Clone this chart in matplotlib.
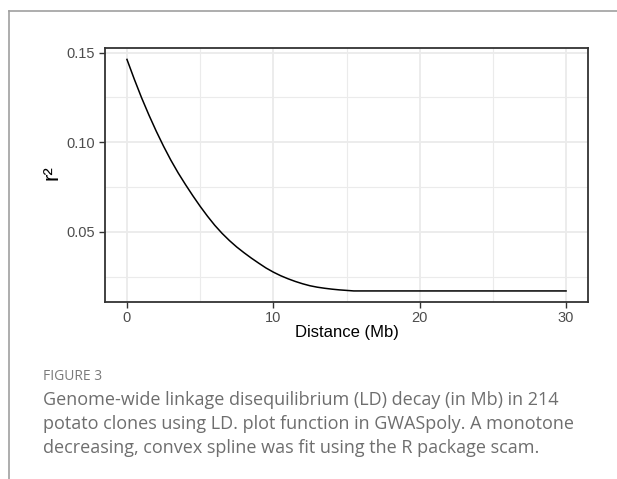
import matplotlib
matplotlib.use("Agg")
import matplotlib.pyplot as plt
from matplotlib.lines import Line2D

# LD decay curve
distance = [0, 0.5, 1, 1.5, 2, 2.5, 3, 3.5, 4, 4.5, 5, 5.5, 6, 6.5, 7, 7.5, 8, 8.5, 9, 9.5,
            10, 10.5, 11, 11.5, 12, 12.5, 13, 13.5, 14, 14.5, 15, 15.5, 20, 25, 30]
r2 = [0.1462, 0.1352, 0.1248, 0.1152, 0.1062, 0.0978, 0.0900, 0.0829, 0.0764, 0.0702,
      0.0643, 0.0588, 0.0537, 0.0492, 0.0452, 0.0416, 0.0384, 0.0354, 0.0326, 0.0299,
      0.0276, 0.0256, 0.0239, 0.0224, 0.0211, 0.0200, 0.0192, 0.0186, 0.0181, 0.0177,
      0.0174, 0.0171, 0.0171, 0.0171, 0.0171]

x_ticks = [0, 10, 20, 30]
y_ticks = [0.05, 0.10, 0.15]
y_minor = [0.025, 0.075, 0.125]
x_minor = [5, 15, 25]

caption_head = "FIGURE 3"
caption_lines = [
    "Genome-wide linkage disequilibrium (LD) decay (in Mb) in 214",
    "potato clones using LD. plot function in GWASpoly. A monotone",
    "decreasing, convex spline was fit using the R package scam.",
]

W, H = 617, 479
fig = plt.figure(figsize=(W / 100, H / 100), dpi=100)
fig.patch.set_facecolor("white")

# page frame lines
fig.add_artist(Line2D([9 / W, 1.0], [1 - 11 / H, 1 - 11 / H], color="#a0a0a0", lw=1.2))
fig.add_artist(Line2D([9 / W, 9 / W], [0, 1 - 11 / H], color="#a0a0a0", lw=1.2))

left, right, top, bottom = 105, 588, 48.3, 301.7
ax = fig.add_axes([left / W, 1 - bottom / H, (right - left) / W, (bottom - top) / H])

ax.plot(distance, r2, color="black", lw=1.1)

ax.set_xlim(-1.5, 31.5)
ax.set_ylim(0.0111, 0.1524)
ax.set_xticks(x_ticks)
ax.set_xticklabels([str(t) for t in x_ticks])
ax.set_yticks(y_ticks)
ax.set_yticklabels(["%.2f" % t for t in y_ticks])
ax.set_xticks(x_minor, minor=True)
ax.set_yticks(y_minor, minor=True)

ax.grid(True, which="major", color="#ebebeb", lw=1.3)
ax.grid(True, which="minor", color="#ebebeb", lw=0.8)
ax.set_axisbelow(True)
ax.tick_params(which="minor", length=0)
ax.tick_params(which="major", length=4, width=1.0, color="#333333",
               labelsize=10.5, labelcolor="#4d4d4d", pad=3)
for lab in ax.get_xticklabels() + ax.get_yticklabels():
    lab.set_fontfamily("Liberation Sans")
for s in ax.spines.values():
    s.set_color("#333333")
    s.set_linewidth(1.3)

ax.set_xlabel("Distance (Mb)", fontsize=12, family="Liberation Sans", labelpad=0)
fig.text(52 / W, 1 - 173 / H, "r²", fontsize=16, family="Liberation Sans",
         rotation=90, ha="center", va="center")

fig.text(43 / W, 1 - 377 / H, caption_head, fontsize=10, color="#7a7a7a",
         family="Open Sans", va="center", ha="left")
for i, line in enumerate(caption_lines):
    fig.text(43 / W, 1 - (400 + 24 * i) / H, line, fontsize=12.95, color="#6e6e6e",
             family="Open Sans", va="center", ha="left")

fig.savefig("out.png", dpi=100)
